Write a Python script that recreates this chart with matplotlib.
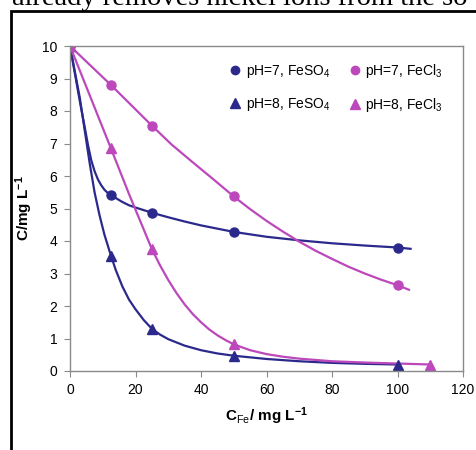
import numpy as np
import matplotlib
matplotlib.use('Agg')
import matplotlib.pyplot as plt
from matplotlib.lines import Line2D
from matplotlib.patches import Rectangle

plt.rcParams['font.family'] = ['Liberation Sans', 'DejaVu Sans']
plt.rcParams['mathtext.fontset'] = 'custom'
plt.rcParams['mathtext.rm'] = 'Liberation Sans'
plt.rcParams['mathtext.it'] = 'Liberation Sans:italic'
plt.rcParams['mathtext.bf'] = 'Liberation Sans:bold'

#------------- measured points ---------------------
dose = [0, 12.5, 25, 50, 100]                       # C_Fe, mg/L
ph7_so4 = [10, 5.42, 4.85, 4.27, 3.8]
ph7_cl3 = [10, 8.8, 7.55, 5.37, 2.64]
ph8_so4 = [10, 3.55, 1.3, 0.47, 0.2]
dose_ph8_cl3 = [0, 12.5, 25, 50, 110]
ph8_cl3 = [10, 6.85, 3.75, 0.82, 0.2]

#------------- fitted curves ----
fit7_so4_x = [0, 1.5, 3, 4.5, 5.5, 6.5, 7.5, 8.5, 9.5, 10.5, 11.5, 12.5, 14, 16, 18, 20, 22.5, 25,
              30, 35, 40, 50, 60, 70, 80, 90, 100, 104]
fit7_so4_y = [10, 9.15, 8.3, 7.5, 6.95, 6.48, 6.15, 5.9, 5.72, 5.58, 5.48, 5.42, 5.32, 5.2, 5.1, 5.03, 4.95, 4.87,
              4.73, 4.6, 4.48, 4.28, 4.13, 4.02, 3.93, 3.86, 3.8, 3.76]
fit7_cl3_x = [0, 12.5, 25, 31, 37.5, 44, 50, 55, 60, 65, 70, 75, 80, 85, 90, 95, 100, 103.5]
fit7_cl3_y = [10, 8.8, 7.55, 6.97, 6.42, 5.88, 5.37, 4.98, 4.62, 4.29, 3.98, 3.7, 3.45, 3.21, 3.0, 2.81, 2.64, 2.5]
fit8_so4_x = [0, 1.5, 3, 4.5, 6, 7.5, 9, 10.5, 12.5, 14, 16, 18, 20, 22.5, 25, 27.5, 30, 35, 40, 45,
              50, 60, 70, 80, 90, 100]
fit8_so4_y = [10, 9.2, 8.4, 7.4, 6.4, 5.5, 4.8, 4.2, 3.55, 3.1, 2.6, 2.2, 1.9, 1.57, 1.3, 1.12, 0.98, 0.78, 0.64, 0.54,
              0.47, 0.37, 0.3, 0.25, 0.22, 0.2]
fit8_cl3_x = [0, 12.5, 18, 25, 27.5, 30, 32.5, 35, 37.5, 40, 42.5, 45, 47.5, 50, 55, 60, 65, 70, 80, 90, 100, 110]
fit8_cl3_y = [10, 6.85, 5.45, 3.75, 3.25, 2.8, 2.4, 2.05, 1.75, 1.5, 1.28, 1.1, 0.95, 0.82, 0.64, 0.52, 0.44, 0.38,
              0.3, 0.26, 0.23, 0.2]

blue = '#2B2A8C'
mag = '#BC48BC'

fig = plt.figure(figsize=(4.76, 4.5), dpi=100)
ax = fig.add_axes([70/476, 1-371/450, (463-70)/476, (371-46)/450])

ax.plot(fit7_so4_x, fit7_so4_y, color=blue, lw=1.6)
ax.plot(fit8_so4_x, fit8_so4_y, color=blue, lw=1.6)
ax.plot(fit7_cl3_x, fit7_cl3_y, color=mag, lw=1.6)
ax.plot(fit8_cl3_x, fit8_cl3_y, color=mag, lw=1.6)
ax.plot(dose, ph7_so4, 'o', color=blue, ms=6.5, ls='none')
ax.plot(dose, ph8_so4, '^', color=blue, ms=7, ls='none')
ax.plot(dose, ph7_cl3, 'o', color=mag, ms=6.5, ls='none')
ax.plot(dose_ph8_cl3, ph8_cl3, '^', color=mag, ms=7, ls='none')

ax.set_xlim(0, 120); ax.set_ylim(0, 10)
ax.set_xticks(np.arange(0, 121, 20)); ax.set_yticks(np.arange(0, 11, 1))
for s in ax.spines.values():
    s.set_color('#8a8a8a'); s.set_linewidth(1.0)
ax.tick_params(direction='out', length=4, color='#8a8a8a', labelsize=10, pad=5)
ax.set_ylabel('C/mg L$^{\\mathbf{-1}}$', fontsize=11, fontweight='bold', labelpad=5)
ax.set_xlabel('C$_{\\mathrm{Fe}}$/ mg L$^{\\mathbf{-1}}$', fontsize=11, fontweight='bold', labelpad=6)

handles = [Line2D([], [], marker='o', color=blue, ls='none', ms=6),
           Line2D([], [], marker='^', color=blue, ls='none', ms=7),
           Line2D([], [], marker='o', color=mag, ls='none', ms=6),
           Line2D([], [], marker='^', color=mag, ls='none', ms=7)]
labels = ['pH=7, FeSO$_4$', 'pH=8, FeSO$_4$', 'pH=7, FeCl$_3$', 'pH=8, FeCl$_3$']
ax.legend(handles, labels, ncol=2, frameon=False, fontsize=10, loc='upper right',
          bbox_to_anchor=(0.98, 0.99), handletextpad=0.0, columnspacing=1.0,
          labelspacing=1.15, handlelength=1.5)

# page border and text above
fig.patches.append(Rectangle((11/476, -0.1), 1.2, 1-11/450+0.1, transform=fig.transFigure,
                             fill=False, ec='black', lw=2))
fig.text(12/476, 1-5/450, 'already removes nickel ions from the so', family='Liberation Serif',
         fontsize=20.5, va='baseline', ha='left')

fig.savefig('out.png', dpi=100)
